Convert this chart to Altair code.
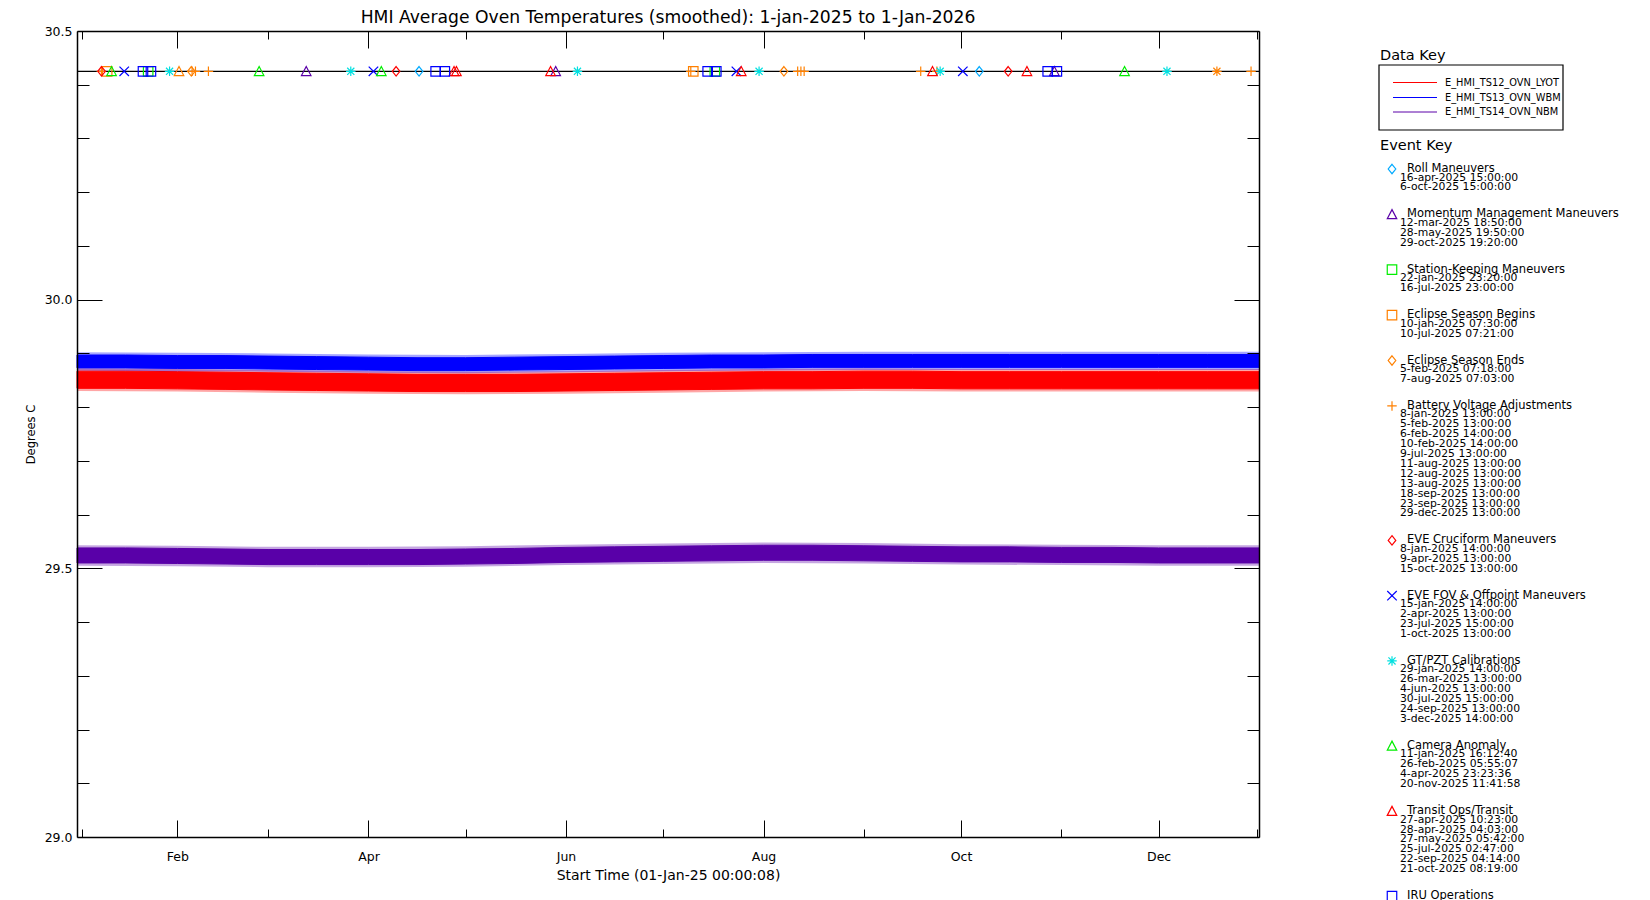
import altair as alt
import pandas as pd

FONT = "DejaVu Sans"

# ---------------- data ----------------
series_names = ["E_HMI_TS12_OVN_LYOT", "E_HMI_TS13_OVN_WBM", "E_HMI_TS14_OVN_NBM"]
series_colors = ["#FF0000", "#0000FF", "#5A00A8"]

# dense core of each (noisy) temperature band, half-monthly
band_dates = ["2025-01-01", "2025-01-16", "2025-02-01", "2025-02-16", "2025-03-01",
              "2025-03-16", "2025-04-01", "2025-04-16", "2025-05-01", "2025-05-16",
              "2025-06-01", "2025-06-16", "2025-07-01", "2025-07-16", "2025-08-01",
              "2025-08-16", "2025-09-01", "2025-09-16", "2025-10-01", "2025-10-16",
              "2025-11-01", "2025-11-16", "2025-12-01", "2025-12-16", "2026-01-01"]

ts12_hi = [29.867, 29.867, 29.866, 29.865, 29.864, 29.863, 29.862, 29.861, 29.861, 29.861,
           29.862, 29.863, 29.864, 29.865, 29.866, 29.866, 29.867, 29.867, 29.866, 29.866,
           29.866, 29.866, 29.866, 29.866, 29.866]
ts12_lo = [29.835, 29.835, 29.834, 29.833, 29.832, 29.831, 29.830, 29.829, 29.829, 29.829,
           29.830, 29.831, 29.832, 29.833, 29.834, 29.834, 29.835, 29.835, 29.834, 29.834,
           29.834, 29.834, 29.834, 29.834, 29.834]
ts13_hi = [29.897, 29.897, 29.896, 29.896, 29.895, 29.894, 29.893, 29.892, 29.892, 29.893,
           29.894, 29.895, 29.896, 29.897, 29.897, 29.898, 29.898, 29.898, 29.898, 29.898,
           29.898, 29.898, 29.898, 29.898, 29.898]
ts13_lo = [29.873, 29.873, 29.872, 29.872, 29.871, 29.870, 29.869, 29.868, 29.868, 29.869,
           29.870, 29.871, 29.872, 29.873, 29.873, 29.874, 29.874, 29.874, 29.874, 29.874,
           29.874, 29.874, 29.874, 29.874, 29.874]
ts14_hi = [29.538, 29.538, 29.537, 29.536, 29.535, 29.535, 29.535, 29.535, 29.536, 29.537,
           29.539, 29.540, 29.541, 29.542, 29.543, 29.543, 29.542, 29.541, 29.540, 29.540,
           29.539, 29.539, 29.538, 29.538, 29.538]
ts14_lo = [29.510, 29.510, 29.509, 29.508, 29.507, 29.507, 29.507, 29.507, 29.508, 29.509,
           29.511, 29.512, 29.513, 29.514, 29.515, 29.515, 29.514, 29.513, 29.512, 29.512,
           29.511, 29.511, 29.510, 29.510, 29.510]

# outer envelope of the spikes around each band, monthly
env_dates = ["2025-01-01", "2025-02-01", "2025-03-01", "2025-04-01", "2025-05-01",
             "2025-06-01", "2025-07-01", "2025-08-01", "2025-09-01", "2025-10-01",
             "2025-11-01", "2025-12-01", "2026-01-01"]
ts12_env_hi = [29.872, 29.871, 29.869, 29.867, 29.866, 29.867, 29.869, 29.871, 29.872,
               29.871, 29.871, 29.871, 29.871]
ts12_env_lo = [29.830, 29.829, 29.827, 29.825, 29.824, 29.825, 29.827, 29.829, 29.830,
               29.829, 29.829, 29.829, 29.829]
ts13_env_hi = [29.902, 29.901, 29.900, 29.898, 29.897, 29.899, 29.901, 29.902, 29.903,
               29.903, 29.903, 29.903, 29.903]
ts13_env_lo = [29.868, 29.867, 29.866, 29.864, 29.863, 29.865, 29.867, 29.868, 29.869,
               29.869, 29.869, 29.869, 29.869]
ts14_env_hi = [29.543, 29.542, 29.540, 29.540, 29.541, 29.544, 29.546, 29.548, 29.547,
               29.545, 29.544, 29.543, 29.543]
ts14_env_lo = [29.505, 29.504, 29.502, 29.502, 29.503, 29.506, 29.508, 29.510, 29.509,
               29.507, 29.506, 29.505, 29.505]

EVENT_LEVEL = 30.425

legend_events = [
    ("Roll Maneuvers", ["16-apr-2025 15:00:00", "6-oct-2025 15:00:00"]),
    ("Momentum Management Maneuvers", ["12-mar-2025 18:50:00", "28-may-2025 19:50:00",
                                       "29-oct-2025 19:20:00"]),
    ("Station-Keeping Maneuvers", ["22-jan-2025 23:20:00", "16-jul-2025 23:00:00"]),
    ("Eclipse Season Begins", ["10-jan-2025 07:30:00", "10-jul-2025 07:21:00"]),
    ("Eclipse Season Ends", ["5-feb-2025 07:18:00", "7-aug-2025 07:03:00"]),
    ("Battery Voltage Adjustments", ["8-jan-2025 13:00:00", "5-feb-2025 13:00:00",
                                     "6-feb-2025 14:00:00", "10-feb-2025 14:00:00",
                                     "9-jul-2025 13:00:00", "11-aug-2025 13:00:00",
                                     "12-aug-2025 13:00:00", "13-aug-2025 13:00:00",
                                     "18-sep-2025 13:00:00", "23-sep-2025 13:00:00",
                                     "29-dec-2025 13:00:00"]),
    ("EVE Cruciform Maneuvers", ["8-jan-2025 14:00:00", "9-apr-2025 13:00:00",
                                 "15-oct-2025 13:00:00"]),
    ("EVE FOV & Offpoint Maneuvers", ["15-jan-2025 14:00:00", "2-apr-2025 13:00:00",
                                      "23-jul-2025 15:00:00", "1-oct-2025 13:00:00"]),
    ("GT/PZT Calibrations", ["29-jan-2025 14:00:00", "26-mar-2025 13:00:00",
                             "4-jun-2025 13:00:00", "30-jul-2025 15:00:00",
                             "24-sep-2025 13:00:00", "3-dec-2025 14:00:00"]),
    ("Camera Anomaly", ["11-jan-2025 16:12:40", "26-feb-2025 05:55:07",
                        "4-apr-2025 23:23:36", "20-nov-2025 11:41:58"]),
    ("Transit Ops/Transit", ["27-apr-2025 10:23:00", "28-apr-2025 04:03:00",
                             "27-may-2025 05:42:00", "25-jul-2025 02:47:00",
                             "22-sep-2025 04:14:00", "21-oct-2025 08:19:00"]),
]
iru_name = "IRU Operations"
iru_dates = ["21-jan-2025 09:00:00", "23-jan-2025 20:00:00", "21-apr-2025 18:00:00",
             "24-apr-2025 14:00:00", "14-jul-2025 18:00:00", "17-jul-2025 10:00:00",
             "27-oct-2025 18:00:00", "30-oct-2025 14:00:00"]
# markers in the plot whose legend entries are cut off
unlisted = [("Unlisted event A", ["1-feb-2025 12:00:00"]),
            ("Unlisted event B", ["19-dec-2025 00:00:00"])]

DIAMOND = "M0,-1L0.8,0L0,1L-0.8,0Z"
TRIANGLE = "M-1,0.9L0,-1L1,0.9Z"
SQUARE = "M-1,-1L1,-1L1,1L-1,1Z"
PLUS = "M-1,0L1,0M0,-1L0,1"
XCROSS = "M-1,-1L1,1M-1,1L1,-1"
ASTER = "M-1,0L1,0M0,-1L0,1M-0.75,-0.75L0.75,0.75M-0.75,0.75L0.75,-0.75"

type_names = [n for n, _ in legend_events] + [iru_name] + [n for n, _ in unlisted]
type_shapes = [DIAMOND, TRIANGLE, SQUARE, SQUARE, DIAMOND, PLUS, DIAMOND, XCROSS, ASTER,
               TRIANGLE, TRIANGLE, SQUARE, TRIANGLE, ASTER]
type_colors = ["#00AAFF", "#5A00A8", "#00EE00", "#FF8000", "#FF8000", "#FF8000", "#FF0000",
               "#0000FF", "#00E0E0", "#00EE00", "#FF0000", "#0000FF", "#FF8000", "#FF8000"]

major_months = [2, 4, 6, 8, 10, 12]
minor_months = [3, 5, 7, 9, 11]
y_major = [29.0, 29.5, 30.0, 30.5]
y_minor = [29.1, 29.2, 29.3, 29.4, 29.6, 29.7, 29.8, 29.9, 30.1, 30.2, 30.3, 30.4]

# ---------------- layout ----------------
W, H = 1182, 806
LEG_X0, LEG_Y0 = 1383, 31     # page position of the key panel's origin
LW, LH = 245, 870
GAP = 117


def dt(y, m, d, h=0):
    return alt.DateTime(year=y, month=m, date=d, hours=h, utc=True)


def iso(s):
    return pd.to_datetime(s, format="%d-%b-%Y %H:%M:%S").strftime("%Y-%m-%dT%H:%M:%SZ")


x_scale = alt.Scale(type="utc", domain=[dt(2025, 1, 1), dt(2026, 1, 1)], nice=False)
y_scale = alt.Scale(domain=[29.0, 30.5], nice=False, zero=False)
shape_scale = alt.Scale(domain=type_names, range=type_shapes)
color_scale = alt.Scale(domain=type_names, range=type_colors)
series_scale = alt.Scale(domain=series_names, range=series_colors)

x_major_vals = [dt(2025, m, 1) for m in major_months]
x_minor_vals = [dt(2025, m, 1) for m in minor_months] + [dt(2025, 1, 2, 16), dt(2025, 12, 31, 10)]


def xaxis(orient, values, tick, labels=False, title=None, domain=False):
    kw = dict(orient=orient, values=values, tickSize={"expr": str(-tick)}, tickColor="black",
              tickWidth=1, grid=False, domain=domain, labels=labels, title=title, zindex=1)
    if domain:
        kw.update(domainColor="black", domainWidth=1.5)
    if labels:
        kw.update(labelExpr="utcFormat(datum.value, '%b')", labelFont=FONT, labelFontSize=12.5,
                  labelColor="black", labelPadding=tick + 13, labelFlush=False)
    if title:
        kw.update(titleFont=FONT, titleFontSize=14, titleFontWeight="normal",
                  titleColor="black", titlePadding=6)
    return alt.Axis(**kw)


def yaxis(orient, values, tick, labels=False, title=None, domain=False):
    kw = dict(orient=orient, values=values, tickSize={"expr": str(-tick)}, tickColor="black",
              tickWidth=1, grid=False, domain=domain, labels=labels, title=title, zindex=1)
    if domain:
        kw.update(domainColor="black", domainWidth=1.5)
    if labels:
        kw.update(format=".1f", labelFont=FONT, labelFontSize=12.5, labelColor="black",
                  labelPadding=tick + 5, labelFlush=False)
    if title:
        kw.update(titleFont=FONT, titleFontSize=11.5, titleFontWeight="normal",
                  titleColor="black", titlePadding=8)
    return alt.Axis(**kw)


# ---------------- main plot ----------------
rows = []
for name, lo, hi in zip(series_names, [ts12_lo, ts13_lo, ts14_lo], [ts12_hi, ts13_hi, ts14_hi]):
    for d, l, h in zip(band_dates, lo, hi):
        rows.append({"date": d + "T00:00:00Z", "series": name, "lo": l, "hi": h})
bands = pd.DataFrame(rows)

env_rows = []
for name, lo, hi in zip(series_names, [ts12_env_lo, ts13_env_lo, ts14_env_lo],
                        [ts12_env_hi, ts13_env_hi, ts14_env_hi]):
    for d, l, h in zip(env_dates, lo, hi):
        env_rows.append({"date": d + "T00:00:00Z", "series": name, "lo": l, "hi": h})
envelope = pd.DataFrame(env_rows)

ev_rows = []
for name, dates in legend_events + [(iru_name, iru_dates)] + unlisted:
    for s in dates:
        ev_rows.append({"date": iso(s), "type": name, "level": EVENT_LEVEL})
events = pd.DataFrame(ev_rows)

envelope_layer = alt.Chart(envelope).mark_area(opacity=0.35).encode(
    x=alt.X("date:T", scale=x_scale, axis=None),
    y=alt.Y("lo:Q", scale=y_scale, axis=None),
    y2="hi:Q",
    fill=alt.Fill("series:N", scale=series_scale, legend=None),
)

band_layer = alt.Chart(bands).mark_area(strokeWidth=1).encode(
    x=alt.X("date:T", scale=x_scale,
            axis=xaxis("bottom", x_major_vals, 17, labels=True,
                       title="Start Time (01-Jan-25 00:00:08)", domain=True)),
    y=alt.Y("lo:Q", scale=y_scale,
            axis=yaxis("left", y_major, 25, labels=True, title="Degrees C", domain=True)),
    y2="hi:Q",
    fill=alt.Fill("series:N", scale=series_scale, legend=None),
    stroke=alt.Stroke("series:N", scale=series_scale, legend=None),
)

level_df = pd.DataFrame({"level": [EVENT_LEVEL]})
event_line = alt.Chart(level_df).mark_rule(color="black", strokeWidth=1.3).encode(
    y=alt.Y("level:Q", scale=y_scale, axis=None)
)

event_marks = alt.Chart(events).mark_point(filled=False, size=90, strokeWidth=1.2, opacity=1).encode(
    x=alt.X("date:T", scale=x_scale, axis=None),
    y=alt.Y("level:Q", scale=y_scale, axis=None),
    shape=alt.Shape("type:N", scale=shape_scale, legend=None),
    color=alt.Color("type:N", scale=color_scale, legend=None),
)

carrier_df = pd.DataFrame({"date": ["2025-01-01T00:00:00Z"], "v": [29.0]})


def carrier(xa, ya):
    return alt.Chart(carrier_df).mark_point(opacity=0).encode(
        x=alt.X("date:T", scale=x_scale, axis=xa),
        y=alt.Y("v:Q", scale=y_scale, axis=ya),
    )


carriers = [
    carrier(xaxis("bottom", x_minor_vals, 8), yaxis("left", y_minor, 12)),
    carrier(xaxis("top", x_major_vals, 17, domain=True), yaxis("right", y_major, 25, domain=True)),
    carrier(xaxis("top", x_minor_vals, 8), yaxis("right", y_minor, 12)),
]

main = alt.layer(band_layer, envelope_layer, event_line, event_marks, *carriers).resolve_axis(
    x="independent", y="independent"
).properties(
    width=W, height=H,
    title=alt.Title("HMI Average Oven Temperatures (smoothed): 1-jan-2025 to 1-Jan-2026",
                    font=FONT, fontSize=17.2, fontWeight="normal", color="black",
                    anchor="middle", offset=-1),
)

# ---------------- key panel ----------------
def px(x):
    return x - LEG_X0


def py(y):
    return y - LEG_Y0


heads = pd.DataFrame({"px": [px(1381), px(1381)], "py": [py(56), py(146)],
                      "label": ["Data Key", "Event Key"]})
key_rows = [82.5, 97.5, 112]
key_lines = pd.DataFrame({"x0": [px(1394)] * 3, "x1": [px(1438)] * 3,
                          "py": [py(v) for v in key_rows], "series": series_names})
key_text = pd.DataFrame({"px": [px(1446)] * 3, "py": [py(v) for v in key_rows],
                         "label": series_names})
box = pd.DataFrame({"x0": [px(1380)], "x1": [px(1564)], "y0": [py(65)], "y1": [py(130)]})

sym_rows, title_rows, date_rows = [], [], []
t = 169.0
for name, dates in legend_events + [(iru_name, [])]:
    sym_rows.append({"px": px(1393), "py": py(t), "type": name})
    title_rows.append({"px": px(1408), "py": py(t), "label": name})
    yy = t + 8.5
    for s in dates:
        date_rows.append({"px": px(1401), "py": py(yy), "label": s})
        yy += 9.9
    t = yy - 9.9 + 27
syms = pd.DataFrame(sym_rows)
titles = pd.DataFrame(title_rows)
dates_df = pd.DataFrame(date_rows)

lx = alt.Scale(domain=[0, LW], range=[0, LW], nice=False, zero=False)
ly = alt.Scale(domain=[0, LH], range=[0, LH], nice=False, zero=False)


def text_layer(df, size):
    return alt.Chart(df).mark_text(align="left", baseline="middle", font=FONT,
                                   fontSize=size, color="black").encode(
        x=alt.X("px:Q", scale=lx, axis=None),
        y=alt.Y("py:Q", scale=ly, axis=None),
        text="label:N",
    )


box_layer = alt.Chart(box).mark_rect(fillOpacity=0, stroke="black", strokeWidth=1.2).encode(
    x=alt.X("x0:Q", scale=lx, axis=None), x2="x1:Q",
    y=alt.Y("y0:Q", scale=ly, axis=None), y2="y1:Q",
)
line_layer = alt.Chart(key_lines).mark_rule(strokeWidth=1).encode(
    x=alt.X("x0:Q", scale=lx, axis=None), x2="x1:Q",
    y=alt.Y("py:Q", scale=ly, axis=None),
    stroke=alt.Stroke("series:N", scale=series_scale, legend=None),
)
sym_layer = alt.Chart(syms).mark_point(filled=False, size=90, strokeWidth=1.2, opacity=1).encode(
    x=alt.X("px:Q", scale=lx, axis=None),
    y=alt.Y("py:Q", scale=ly, axis=None),
    shape=alt.Shape("type:N", scale=shape_scale, legend=None),
    color=alt.Color("type:N", scale=color_scale, legend=None),
)

key_panel = alt.layer(
    box_layer, line_layer, sym_layer,
    text_layer(heads, 14.5), text_layer(key_text, 9.8),
    text_layer(titles, 11.5), text_layer(dates_df, 10.8),
).properties(width=LW, height=LH)

chart = alt.hconcat(main, key_panel, spacing=GAP).properties(
    padding={"left": 17, "top": 0, "right": 0, "bottom": 0},
    background="white",
).configure_view(strokeWidth=0)

chart.save("out.html", embed_options={"renderer": "svg", "actions": False})
